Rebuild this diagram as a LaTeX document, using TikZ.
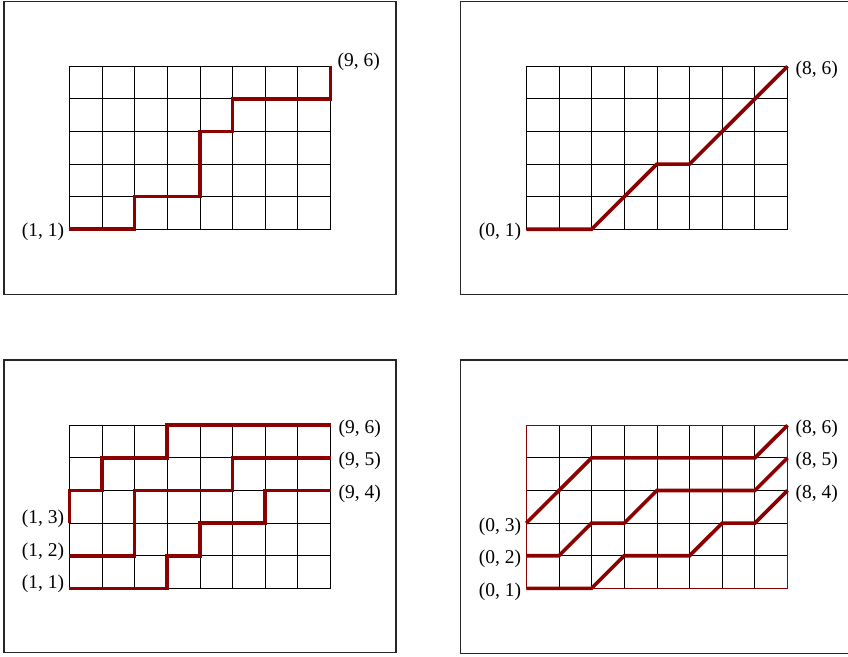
\documentclass[tikz,border=0pt]{standalone}
\usepackage{fontspec}
\setmainfont{Liberation Serif}
\definecolor{pathred}{RGB}{139,0,0}
\tikzset{
  panelbox/.style={draw=black!85, line width=1.4pt},
  gridline/.style={draw=black, line width=0.8pt},
  lattice/.style={draw=pathred, line width=3.6pt, line join=miter, line cap=butt},
  redframe/.style={draw=pathred, line width=0.8pt},
  lbl/.style={inner sep=0pt, font=\fontsize{19.5}{23}\selectfont},
  lblL/.style={lbl, anchor=east, xshift=-5pt},
  lblR/.style={lbl, anchor=west, xshift=8pt},
  latgrid/.pic={
    \foreach \i in {0,...,8} \draw[gridline] (\i,0) -- (\i,5);
    \foreach \j in {0,...,5} \draw[gridline] (0,\j) -- (8,\j);
  },
}
\begin{document}
\begin{tikzpicture}[x=1pt,y=1pt]
\clip (0,0) rectangle (848,656);
\useasboundingbox (0,0) rectangle (848,656);
% panel frames
\draw[panelbox] (4,654.7) rectangle (396,361.3);
\draw[panelbox] (460.7,654.7) rectangle (870,361.3);
\draw[panelbox] (4,296) rectangle (396,3.3);
\draw[panelbox] (460.7,296) rectangle (870,2.7);

% top-left panel
\begin{scope}[shift={(69.3pt,426.7pt)}, x=32.65pt, y=32.6pt]
  \pic {latgrid};
  \coordinate (a0) at (0,0);
  \coordinate (a1) at (8,5);
  \draw[lattice] (a0) -- (2,0) -- (2,1) -- (4,1) -- (4,3) -- (5,3) -- (5,4) -- (8,4) -- (a1);
  \node[lblL, yshift=-3pt] (tl11) at (a0) {(1, 1)};
  \node[lblR, yshift=4pt, xshift=-1pt] (tl96) at (a1) {(9, 6)};
\end{scope}

% top-right panel
\begin{scope}[shift={(526.3pt,426.7pt)}, x=32.65pt, y=32.6pt]
  \pic {latgrid};
  \coordinate (b0) at (0,0);
  \coordinate (b1) at (8,5);
  \draw[lattice] (b0) -- (2,0) -- (4,2) -- (5,2) -- (b1);
  \node[lblL, yshift=-3pt] (tr01) at (b0) {(0, 1)};
  \node[lblR, yshift=-3.5pt] (tr86) at (b1) {(8, 6)};
\end{scope}

% bottom-left panel
\begin{scope}[shift={(69.3pt,67.7pt)}, x=32.65pt, y=32.6pt]
  \pic {latgrid};
  \coordinate (c0) at (0,0);
  \coordinate (c1) at (0,1);
  \coordinate (c2) at (0,2);
  \coordinate (c3) at (8,3);
  \coordinate (c4) at (8,4);
  \coordinate (c5) at (8,5);
  \draw[lattice] (c0) -- (3,0) -- (3,1) -- (4,1) -- (4,2) -- (6,2) -- (6,3) -- (c3);
  \draw[lattice] (c1) -- (2,1) -- (2,3) -- (5,3) -- (5,4) -- (c4);
  \draw[lattice] (c2) -- (0,3) -- (1,3) -- (1,4) -- (3,4) -- (3,5) -- (c5);
  \node[lblL, yshift=4pt] (bl11) at (c0) {(1, 1)};
  \node[lblL, yshift=4pt] (bl12) at (c1) {(1, 2)};
  \node[lblL, yshift=4.5pt] (bl13) at (c2) {(1, 3)};
  \node[lblR, yshift=-3pt] (bl94) at (c3) {(9, 4)};
  \node[lblR, yshift=-3.3pt] (bl95) at (c4) {(9, 5)};
  \node[lblR, yshift=-3.3pt] (bl96) at (c5) {(9, 6)};
\end{scope}

% bottom-right panel
\begin{scope}[shift={(526.3pt,67.7pt)}, x=32.65pt, y=32.6pt]
  \pic {latgrid};
  \draw[redframe] (0,0) rectangle (8,5);
  \coordinate (d0) at (0,0);
  \coordinate (d1) at (0,1);
  \coordinate (d2) at (0,2);
  \coordinate (d3) at (8,3);
  \coordinate (d4) at (8,4);
  \coordinate (d5) at (8,5);
  \draw[lattice] (d0) -- (2,0) -- (3,1) -- (5,1) -- (6,2) -- (7,2) -- (d3);
  \draw[lattice] (d1) -- (1,1) -- (2,2) -- (3,2) -- (4,3) -- (7,3) -- (d4);
  \draw[lattice] (d2) -- (2,4) -- (7,4) -- (d5);
  \node[lblL, yshift=-4pt] (br01) at (d0) {(0, 1)};
  \node[lblL, yshift=-3.4pt] (br02) at (d1) {(0, 2)};
  \node[lblL, yshift=-3.7pt] (br03) at (d2) {(0, 3)};
  \node[lblR, yshift=-3pt] (br84) at (d3) {(8, 4)};
  \node[lblR, yshift=-3.3pt] (br85) at (d4) {(8, 5)};
  \node[lblR, yshift=-4pt] (br86) at (d5) {(8, 6)};
\end{scope}
\end{tikzpicture}
\end{document}
